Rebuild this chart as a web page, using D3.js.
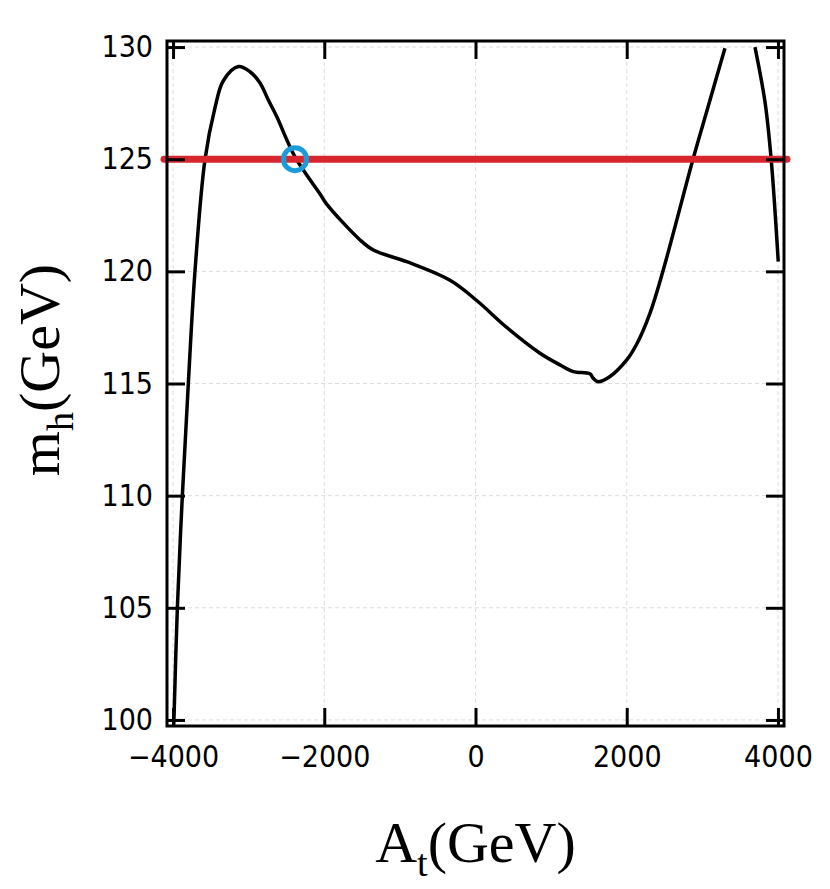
<!DOCTYPE html>
<html>
<head>
<meta charset="utf-8">
<title>m_h vs A_t</title>
<script src="https://d3js.org/d3.v7.min.js"></script>
<style>
body { margin: 0; background: #fff; }
.tick text { font-family: "DejaVu Sans Condensed", "DejaVu Sans", sans-serif; font-stretch: condensed; font-size: 30px; fill: #000; }
.axis-title { font-family: "Liberation Serif", "Times New Roman", serif; font-size: 58px; fill: #000; }
</style>
</head>
<body>
<svg id="chart" width="830" height="889"></svg>
<script>
// values
const atValues = [-3990, -3943, -3877, -3798, -3710, -3577, -3445, -3335, -3136, -2982, -2850, -2740, -2629, -2387,
  -2056, -1968, -1527, -1351, -910, -337, 16, 413, 853, 1117, 1293, 1514, 1558, 1624, 1779,
  2000, 2131, 2307, 2483, 2880, 3057, 3299, null, 3696, 3828, 3910, 4004];
const mhValues = [99.8, 105, 110, 115, 120, 125, 127.3, 128.5, 129.13, 128.9, 128.4, 127.64, 126.9, 125.1,
  123.45, 123.0, 121.4, 120.95, 120.43, 119.6, 118.7, 117.5, 116.35, 115.83, 115.53, 115.43, 115.23, 115.08, 115.31,
  116.05, 116.75, 118.13, 120.06, 125.04, 127.12, 129.95, null, 130, 127.57, 125.01, 120.43];
const refMass = [125];
const markerPoint = [{at: -2387, mh: 125}];
const xTicks = [-4000, -2000, 0, 2000, 4000];
const yTicks = [100, 105, 110, 115, 120, 125, 130];

const svg = d3.select("#chart");
const pLeft = 167, pRight = 784, pTop = 41, pBottom = 726;

const x = d3.scaleLinear().domain([-4080, 4080]).range([pLeft, pRight]);
const y = d3.scaleLinear().domain([99.73, 130.27]).range([pBottom, pTop]);

const pts = atValues.map((a, i) => ({at: a, mh: mhValues[i]}));

svg.append("defs").append("clipPath").attr("id", "plot-clip")
  .append("rect").attr("x", pLeft).attr("y", pTop).attr("width", pRight - pLeft).attr("height", pBottom - pTop);

// grid
const grid = svg.append("g").attr("stroke", "#dcdcdc").attr("stroke-width", 1).attr("stroke-dasharray", "4,3");
grid.selectAll(".gx").data(xTicks).enter().append("line")
  .attr("x1", d => x(d)).attr("x2", d => x(d)).attr("y1", pTop).attr("y2", pBottom);
grid.selectAll(".gy").data(yTicks).enter().append("line")
  .attr("x1", pLeft).attr("x2", pRight).attr("y1", d => y(d)).attr("y2", d => y(d));

// the curve
const line = d3.line()
  .defined(d => d.at !== null && d.mh !== null)
  .x(d => x(d.at)).y(d => y(d.mh))
  .curve(d3.curveCatmullRom.alpha(0.5));

svg.append("path")
  .datum(pts)
  .attr("clip-path", "url(#plot-clip)")
  .attr("fill", "none")
  .attr("stroke", "#000")
  .attr("stroke-width", 3.5)
  .attr("stroke-linejoin", "round")
  .attr("d", line);

// red reference line at 125 GeV
svg.selectAll(".ref").data(refMass).enter().append("line")
  .attr("x1", pLeft - 3).attr("x2", pRight + 3)
  .attr("y1", d => y(d)).attr("y2", d => y(d))
  .attr("stroke", "#d8262f").attr("stroke-width", 7).attr("stroke-linecap", "round");

// blue marker
svg.selectAll(".mark").data(markerPoint).enter().append("circle")
  .attr("cx", d => x(d.at)).attr("cy", d => y(d.mh)).attr("r", 11.5)
  .attr("fill", "none").attr("stroke", "#1b9bd8").attr("stroke-width", 5);

// axes, ticks point inward
function styleAxis(g) {
  g.select(".domain").remove();
  g.selectAll(".tick line").attr("stroke", "#000").attr("stroke-width", 3);
}
svg.append("g").attr("transform", `translate(0,${pBottom})`)
  .call(d3.axisBottom(x).tickValues(xTicks).tickFormat(d3.format("d")).tickSize(-18).tickPadding(20))
  .call(styleAxis);
svg.append("g").attr("transform", `translate(0,${pTop})`)
  .call(d3.axisTop(x).tickValues(xTicks).tickSize(-18).tickFormat(""))
  .call(styleAxis);
svg.append("g").attr("transform", `translate(${pLeft},0)`)
  .call(d3.axisLeft(y).tickValues(yTicks).tickFormat(d3.format("d")).tickSize(-18).tickPadding(14))
  .call(styleAxis);
svg.append("g").attr("transform", `translate(${pRight},0)`)
  .call(d3.axisRight(y).tickValues(yTicks).tickSize(-18).tickFormat(""))
  .call(styleAxis);

// frame
svg.append("rect")
  .attr("x", pLeft).attr("y", pTop).attr("width", pRight - pLeft).attr("height", pBottom - pTop)
  .attr("fill", "none").attr("stroke", "#000").attr("stroke-width", 3);

// axis titles
const xt = svg.append("text").attr("class", "axis-title")
  .attr("x", (pLeft + pRight) / 2).attr("y", 862).attr("text-anchor", "middle");
xt.append("tspan").text("A");
xt.append("tspan").attr("font-size", "38px").attr("dy", 14).text("t");
xt.append("tspan").attr("dy", -14).text("(GeV)");

const yt = svg.append("text").attr("class", "axis-title")
  .attr("transform", "translate(59,370) rotate(-90)").attr("text-anchor", "middle");
yt.append("tspan").text("m");
yt.append("tspan").attr("font-size", "38px").attr("dy", 14).text("h");
yt.append("tspan").attr("dy", -14).text("(GeV)");
</script>
</body>
</html>
